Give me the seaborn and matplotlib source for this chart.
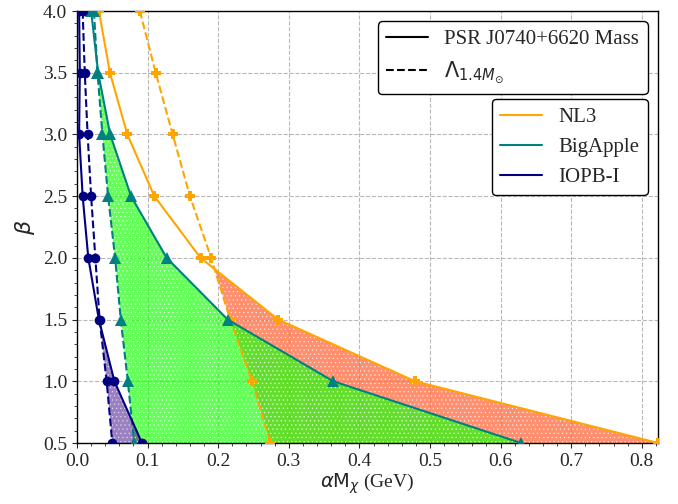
import numpy as np
import pandas as pd
import matplotlib
matplotlib.use("Agg")
import matplotlib.pyplot as plt
from matplotlib.lines import Line2D
import seaborn as sns

beta = [4.0, 3.5, 3.0, 2.5, 2.0, 1.5, 1.0, 0.5]

nl3_mass = [0.031, 0.0467, 0.0713, 0.1095, 0.175, 0.285, 0.479, 0.823]
nl3_lambda = [0.089, 0.1115, 0.1355, 0.160, 0.190, 0.217, 0.248, 0.274]

bigapple_mass = [0.020, 0.030, 0.047, 0.0765, 0.127, 0.2135, 0.363, 0.629]
bigapple_lambda = [0.024, 0.029, 0.036, 0.044, 0.054, 0.062, 0.072, 0.081]

iopb_mass = [0.003, 0.004, 0.003, 0.008, 0.016, 0.031, 0.053, 0.092]
iopb_lambda = [0.008, 0.011, 0.015, 0.020, 0.026, 0.032, 0.042, 0.050]

models = ["NL3", "BigApple", "IOPB-I"]
line_colors = ["orange", "teal", "navy"]
fill_colors = ["#ff6a3d", "#22ff11", "#5a2d9a"]
fill_alpha = [0.75, 0.7, 0.6]
markers = ["P", "^", "o"]
marker_sizes = [7.5, 8, 7]

sns.set_style("ticks")
plt.rcParams["font.family"] = ["Liberation Serif", "DejaVu Sans"]
plt.rcParams["mathtext.fontset"] = "dejavusans"
plt.rcParams["hatch.linewidth"] = 0.4

fig = plt.figure(figsize=(6.78, 5.04), dpi=100)
ax = fig.add_axes([77/678, 1-443/504, (658-77)/678, (443-11)/504])

data = {
    "NL3": (nl3_mass, nl3_lambda),
    "BigApple": (bigapple_mass, bigapple_lambda),
    "IOPB-I": (iopb_mass, iopb_lambda),
}

b = np.array(beta)
for name, fc, a in zip(models, fill_colors, fill_alpha):
    m, l = map(np.array, data[name])
    ax.fill_betweenx(b, l, m, where=m >= l, interpolate=True,
                     facecolor=fc, edgecolor="#ffffff", hatch="....",
                     alpha=a, linewidth=0, zorder=1)

for name, c, mk, ms in zip(models, line_colors, markers, marker_sizes):
    m, l = data[name]
    df = pd.DataFrame({"x": m, "beta": beta})
    dfl = pd.DataFrame({"x": l, "beta": beta})
    sns.lineplot(data=df, x="x", y="beta", sort=False, estimator=None,
                 color=c, marker=mk, markersize=ms, markeredgewidth=0,
                 linewidth=1.5, ax=ax, zorder=3)
    sns.lineplot(data=dfl, x="x", y="beta", sort=False, estimator=None,
                 color=c, marker=mk, markersize=ms, markeredgewidth=0,
                 linewidth=1.5, linestyle="--", ax=ax, zorder=3)

ax.set_xlim(0, max(nl3_mass))
ax.set_ylim(0.5, 4.0)
ax.set_xticks(np.arange(0, 0.81, 0.1))
ax.set_yticks(np.arange(0.5, 4.01, 0.5))
ax.minorticks_on()
ax.grid(True, which="major", linestyle="--", color="#b8b8b8", linewidth=0.8)
ax.tick_params(labelsize=14)
for s in ax.spines.values():
    s.set_color("black")
    s.set_linewidth(1.0)

ax.set_xlabel(r"$\alpha\mathrm{M}_{\chi}$ (GeV)", fontsize=14, labelpad=1)
ax.set_ylabel(r"$\beta$", fontsize=16)

h1 = [Line2D([], [], color="black", lw=1.5, ls="-"),
      Line2D([], [], color="black", lw=1.5, ls="--")]
leg1 = ax.legend(h1, ["PSR J0740+6620 Mass", r"$\Lambda_{1.4M_{\odot}}$"],
                 loc="upper right", fontsize=15, frameon=True,
                 edgecolor="black", framealpha=1, fancybox=True,
                 handlelength=2.0)
ax.add_artist(leg1)
h2 = [Line2D([], [], color=c, lw=1.5) for c in line_colors]
leg2 = ax.legend(h2, models, loc="upper right", bbox_to_anchor=(1.0, 0.82),
                 fontsize=15, frameon=True, edgecolor="black", framealpha=1,
                 fancybox=True, handlelength=2.0)

fig.savefig("out.png", dpi=100)
